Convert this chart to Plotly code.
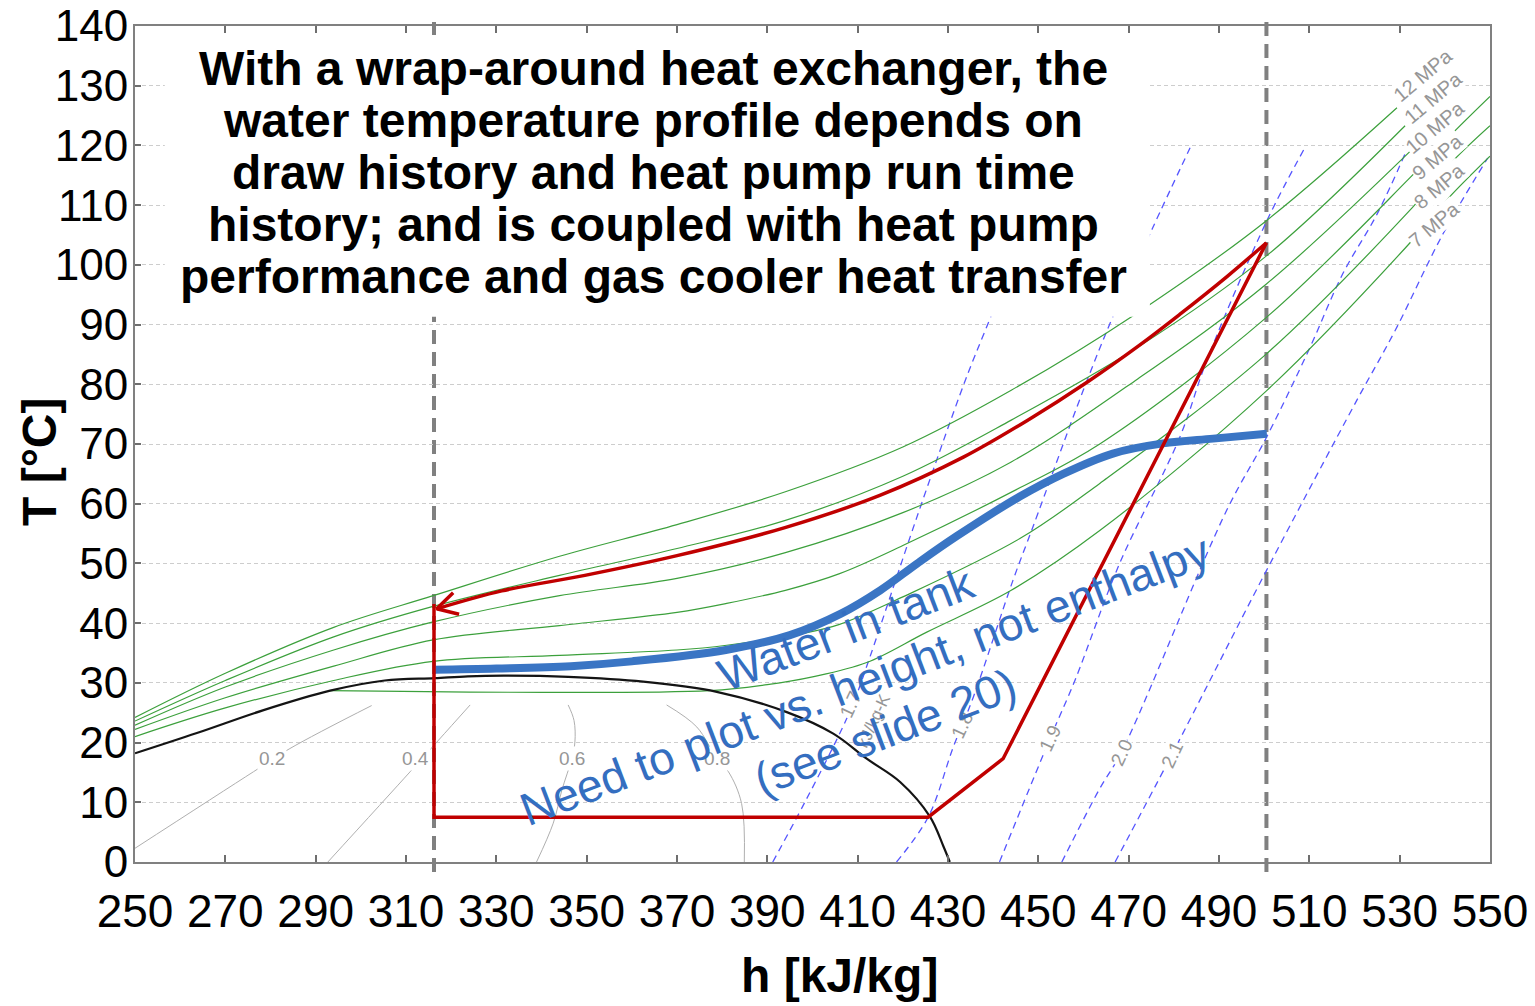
import math
import plotly.graph_objects as go

# ---------------- data (h in kJ/kg, T in °C) ----------------
H_RANGE = [250, 550]
T_RANGE = [0, 140]
h_ticks = list(range(250, 551, 20))
T_ticks = list(range(0, 141, 10))

# CO2 saturation dome
dome_h = [250, 263.7, 278.3, 293.2, 305.3, 316.4, 323.7, 332, 345.9, 362.5, 378.8, 394.3, 404.6, 412, 419.4, 426, 429, 430.4]
dome_T = [18.2, 21.6, 25.4, 28.7, 30.4, 30.8, 31.1, 31.2, 31.0, 30.2, 28.5, 25.1, 21.5, 17.3, 13.4, 7.6, 2.6, 0]

# isobars
p12_h = [250, 270, 294, 316, 344, 370, 394, 420, 444, 472, 500.5, 529.4]
p12_T = [24.2, 31.6, 39.3, 44.6, 51.2, 56.5, 62.0, 69.5, 79.0, 92.0, 107.4, 126.3]
p11_h = [250, 270, 294, 316, 344, 370, 394, 420, 444, 472, 500.5, 531.2]
p11_T = [23.6, 30.4, 37.7, 42.8, 48.0, 52.5, 57.2, 64.6, 74.0, 86.2, 101.5, 123.3]
p10_h = [250, 270, 294, 316, 344, 370, 394, 420, 444, 472, 500.5, 532.3]
p10_T = [22.9, 29.3, 35.5, 40.2, 44.6, 47.5, 51.8, 58.5, 67.0, 80.9, 96.8, 119.0]
p9_h = [250, 270, 294, 316, 344, 370, 381, 394, 406, 420, 446, 463.6, 500.5, 532.3, 541.8, 550]
p9_T = [22.2, 27.5, 32.8, 37.2, 39.6, 41.8, 43.3, 45.5, 48.3, 53.0, 62.7, 70.0, 91.2, 114.6, 122.1, 128.2]
p8_h = [250, 270, 294, 316, 344, 370, 381, 398, 406, 420, 446, 463.6, 500.5, 532.7, 541.8, 550]
p8_T = [21.0, 25.8, 30.4, 33.6, 34.6, 35.5, 36.3, 38.3, 39.8, 44.4, 54.2, 63.4, 85.1, 109.5, 117.4, 123.3]
p7_h = [292.8, 377.3, 390, 400, 412, 425.3, 444, 463.6, 500.5, 531.7, 540.7, 550]
p7_T = [28.7, 28.7, 29.7, 31.0, 33.4, 38.5, 45.5, 55.5, 78.9, 103.2, 111.1, 118.2]
isobar_names = ["12 MPa", "11 MPa", "10 MPa", "9 MPa", "8 MPa", "7 MPa"]

# vapour-quality lines
x02_h = [250, 276.2, 284.3, 302.4]
x02_T = [2.3, 15.1, 19.0, 26.2]
x04_h = [292.7, 310.9, 317.2, 324.2]
x04_T = [0, 15.1, 20.4, 26.3]
x06_h = [338.9, 342.6, 344.5, 346.7, 347.4, 347.2, 345.9]
x06_T = [0, 6.5, 12.0, 17.3, 20.1, 23.7, 26.3]
x08_h = [384.9, 384.3, 381.4, 378.8, 374.4, 367.7]
x08_T = [0, 9.8, 15.1, 17.3, 22.6, 26.3]
quality_names = ["0.2", "0.4", "0.6", "0.8"]

# isentropes (kJ/kg-K)
s17_h = [391.2, 398.3, 405.3, 409, 412.7, 423, 433.8, 439.3, 454.6]
s17_T = [0, 10.0, 20.4, 26.5, 34.3, 57.5, 80.6, 91, 120]
s18_h = [418.6, 425.6, 431.2, 435.6, 444.4, 448.8, 459.9, 466.6, 475.2, 483.6]
s18_T = [0, 7.5, 19.3, 27.6, 47.2, 56.1, 78.9, 91.5, 106, 119.6]
s19_h = [441.4, 452.6, 458.1, 468, 481.3, 487.3, 500.6, 509]
s19_T = [0, 20.7, 30.4, 50, 71.1, 84, 107.4, 119.6]
s20_h = [455.2, 463.6, 468.4, 491.7, 500.5, 510.1, 517.4, 525, 531.2]
s20_T = [0, 12.3, 18.4, 58.9, 71.1, 86.1, 98.5, 108.5, 118.6]
s21_h = [467, 479.5, 500.5, 520.5, 529, 539.6, 549.5]
s21_T = [0, 17.9, 48.8, 77.3, 89, 105.2, 117.9]
entropy_names = ["1.7", "1.8", "1.9", "2.0", "2.1"]

# heat-pump cycle: expansion, evaporation, superheat, compression
cycle_h = [316.2, 316.2, 425.6, 442.2, 500.5]
cycle_T = [43.2, 7.5, 7.5, 17.3, 103.7]
# gas cooler (refrigerant side), flowing toward lower enthalpy
gc_h = [500.5, 491.7, 481.3, 472.5, 460.7, 448.1, 433.4, 414.9, 393.9, 370, 349.6, 331.2, 316.8]
gc_T = [103.7, 98.0, 91.7, 86.6, 80.3, 74.2, 67.8, 61.4, 56.0, 51.3, 48.0, 45.4, 42.4]

# water in tank
water_h = [316, 330, 346.5, 360, 380.8, 395, 406.3, 415, 423.2, 432, 445.9, 455.5, 466.5, 477.6, 488.7, 500.6]
water_T = [32.2, 32.4, 32.8, 33.6, 35.5, 38.0, 41.6, 45.5, 50.0, 54.6, 61.2, 65.0, 68.4, 70.1, 70.9, 71.7]

# enthalpy limits of the tank heat exchange
h_left, h_right = 316.2, 500.5

title_lines = [
    "With a wrap-around heat exchanger, the",
    "water temperature profile depends on",
    "draw history and heat pump run time",
    "history; and is coupled with heat pump",
    "performance and gas cooler heat transfer",
]
note_lines = ["Water in tank", "Need to plot vs. height, not enthalpy", "(see slide 20)"]

# ---------------- figure ----------------
W, H = 1535, 1006
M = dict(l=135, r=45, t=26, b=144)
sx = (W - M["l"] - M["r"]) / (H_RANGE[1] - H_RANGE[0])   # px per kJ/kg
sy = (H - M["t"] - M["b"]) / (T_RANGE[1] - T_RANGE[0])   # px per °C

FONT = "Liberation Sans, Arial, sans-serif"
GREEN = "rgb(60,160,60)"
ISEN = "rgb(85,85,255)"
GREY_TXT = "rgb(150,150,150)"
RED = "rgb(192,0,0)"
BLUE = "rgb(58,117,196)"
BLUE_TXT = "rgb(52,110,192)"

fig = go.Figure()


def line(hs, Ts, color, width, dash="solid", shape="linear"):
    fig.add_trace(go.Scatter(
        x=hs, y=Ts, mode="lines", hoverinfo="skip", showlegend=False,
        line=dict(color=color, width=width, dash=dash, shape=shape, smoothing=1.0),
    ))


for hs, Ts in [(x02_h, x02_T), (x04_h, x04_T), (x06_h, x06_T), (x08_h, x08_T)]:
    line(hs, Ts, "rgb(175,175,175)", 1, shape="spline")

for hs, Ts in [(s17_h, s17_T), (s18_h, s18_T), (s19_h, s19_T), (s20_h, s20_T), (s21_h, s21_T)]:
    line(hs, Ts, ISEN, 1.3, dash="7px,5px", shape="spline")

for hs, Ts in [(p12_h, p12_T), (p11_h, p11_T), (p10_h, p10_T), (p9_h, p9_T), (p8_h, p8_T), (p7_h, p7_T)]:
    line(hs, Ts, GREEN, 1.2, shape="spline")

line(dome_h, dome_T, "rgb(20,20,20)", 2.2, shape="spline")
line(water_h, water_T, BLUE, 8, shape="spline")
line(cycle_h, cycle_T, RED, 3.5)
line(gc_h, gc_T, RED, 3.5, shape="spline")

# open arrow head at the gas-cooler outlet
tip_h, tip_T = gc_h[-1], gc_T[-1]
dx, dy = (gc_h[-2] - tip_h) * sx, (gc_T[-2] - tip_T) * sy
n = math.hypot(dx, dy)
ux, uy = dx / n, dy / n
arm, spread = 23, math.radians(29)
head_h, head_T = [], []
for sgn in (1, -1):
    c, s = math.cos(sgn * spread), math.sin(sgn * spread)
    rx, ry = ux * c - uy * s, ux * s + uy * c
    head_h.append(tip_h + arm * rx / sx)
    head_T.append(tip_T + arm * ry / sy)
line([head_h[0], tip_h, head_h[1]], [head_T[0], tip_T, head_T[1]], RED, 3.5)

shapes = []
for hv in (h_left, h_right):
    shapes.append(dict(type="line", xref="x", yref="y domain", x0=hv, x1=hv, y0=-0.012, y1=1.01,
                       line=dict(color="rgb(128,128,128)", width=4, dash="14px,8px"), layer="below"))
# white panel behind the statement text
shapes.append(dict(type="rect", xref="x", yref="y", x0=256.6, x1=474.7, y0=91.3, y1=138.5,
                   fillcolor="white", line=dict(width=0), layer="above"))

ann = []
# statement text
for i, txt in enumerate(title_lines):
    ann.append(dict(x=364.7, y=132.8 - i * 8.7, xref="x", yref="y", text=f"<b>{txt}</b>",
                    showarrow=False, xanchor="center", yanchor="middle",
                    font=dict(family=FONT, size=48, color="black")))

# isobar labels
iso_pos = [(535.2, 131.8), (537.3, 128.0), (537.9, 123.1), (538.3, 118.1), (538.8, 113.2), (537.8, 106.8)]
for name, (hx, ty) in zip(isobar_names, iso_pos):
    ann.append(dict(x=hx, y=ty, xref="x", yref="y", text=name, showarrow=False, textangle=-40,
                    bgcolor="white", borderpad=0, xanchor="center", yanchor="middle",
                    font=dict(family=FONT, size=20, color=GREY_TXT)))

# quality labels
q_pos = [280.3, 312.0, 346.7, 378.8]
for name, hx in zip(quality_names, q_pos):
    ann.append(dict(x=hx, y=17.3, xref="x", yref="y", text=name, showarrow=False,
                    bgcolor="white", borderpad=1, xanchor="center", yanchor="middle",
                    font=dict(family=FONT, size=19, color=GREY_TXT)))

# entropy labels
s_pos = [(408.5, 26.3), (433.1, 22.9), (452.6, 20.7), (468.4, 18.4), (479.5, 17.9)]
for name, (hx, ty) in zip(entropy_names, s_pos):
    ann.append(dict(x=hx, y=ty, xref="x", yref="y", text=name, showarrow=False, textangle=-65,
                    bgcolor="white", borderpad=0, xanchor="center", yanchor="middle",
                    font=dict(family=FONT, size=19, color=GREY_TXT)))
ann.append(dict(x=413.4, y=23.6, xref="x", yref="y", text="kJ/kg-K", showarrow=False, textangle=-65,
                xanchor="center", yanchor="middle", font=dict(family=FONT, size=17, color=GREY_TXT)))

# note on the water profile
note_pos = [(407.4, 39.0), (411.6, 30.4), (416.0, 21.8)]
for txt, (hx, ty) in zip(note_lines, note_pos):
    ann.append(dict(x=hx, y=ty, xref="x", yref="y", text=txt, showarrow=False, textangle=-21,
                    xanchor="center", yanchor="middle",
                    font=dict(family=FONT, size=46, color=BLUE_TXT)))

# axis titles
ann.append(dict(x=840, y=975, xref="paper", yref="paper", text="<b>h [kJ/kg]</b>", showarrow=False,
                font=dict(family=FONT, size=48, color="black")))
ann.append(dict(x=40, y=462, xref="paper", yref="paper", text="<b>T [°C]</b>", showarrow=False,
                textangle=-90, font=dict(family=FONT, size=48, color="black")))
# convert pixel-placed titles to paper coordinates
for a in ann[-2:]:
    a["x"] = (a["x"] - M["l"]) / (W - M["l"] - M["r"])
    a["y"] = (H - M["b"] - a["y"]) / (H - M["t"] - M["b"])
    a["xanchor"], a["yanchor"] = "center", "middle"

fig.update_layout(
    width=W, height=H, margin=dict(M, autoexpand=False),
    paper_bgcolor="white", plot_bgcolor="white",
    shapes=shapes, annotations=ann,
    font=dict(family=FONT, color="black"),
)
fig.update_xaxes(
    range=H_RANGE, tickvals=h_ticks, ticktext=[str(v) for v in h_ticks],
    showgrid=False, zeroline=False, automargin=False,
    showline=True, linecolor="rgb(128,128,128)", linewidth=2, mirror="ticks",
    ticks="inside", ticklen=7, tickwidth=1.5, tickcolor="rgb(110,110,110)",
    tickfont=dict(family=FONT, size=46, color="black"), ticklabelstandoff=8,
)
fig.update_yaxes(
    range=T_RANGE, tickvals=T_ticks, ticktext=[str(v) for v in T_ticks],
    showgrid=True, gridcolor="rgb(205,205,205)", gridwidth=1, griddash="4px,3px",
    zeroline=False, automargin=False,
    showline=True, linecolor="rgb(128,128,128)", linewidth=2, mirror=True,
    ticks="inside", ticklen=6, tickwidth=1.5, tickcolor="rgb(110,110,110)",
    tickfont=dict(family=FONT, size=44, color="black"), ticklabelstandoff=-4,
)

fig.write_html("out.html")
